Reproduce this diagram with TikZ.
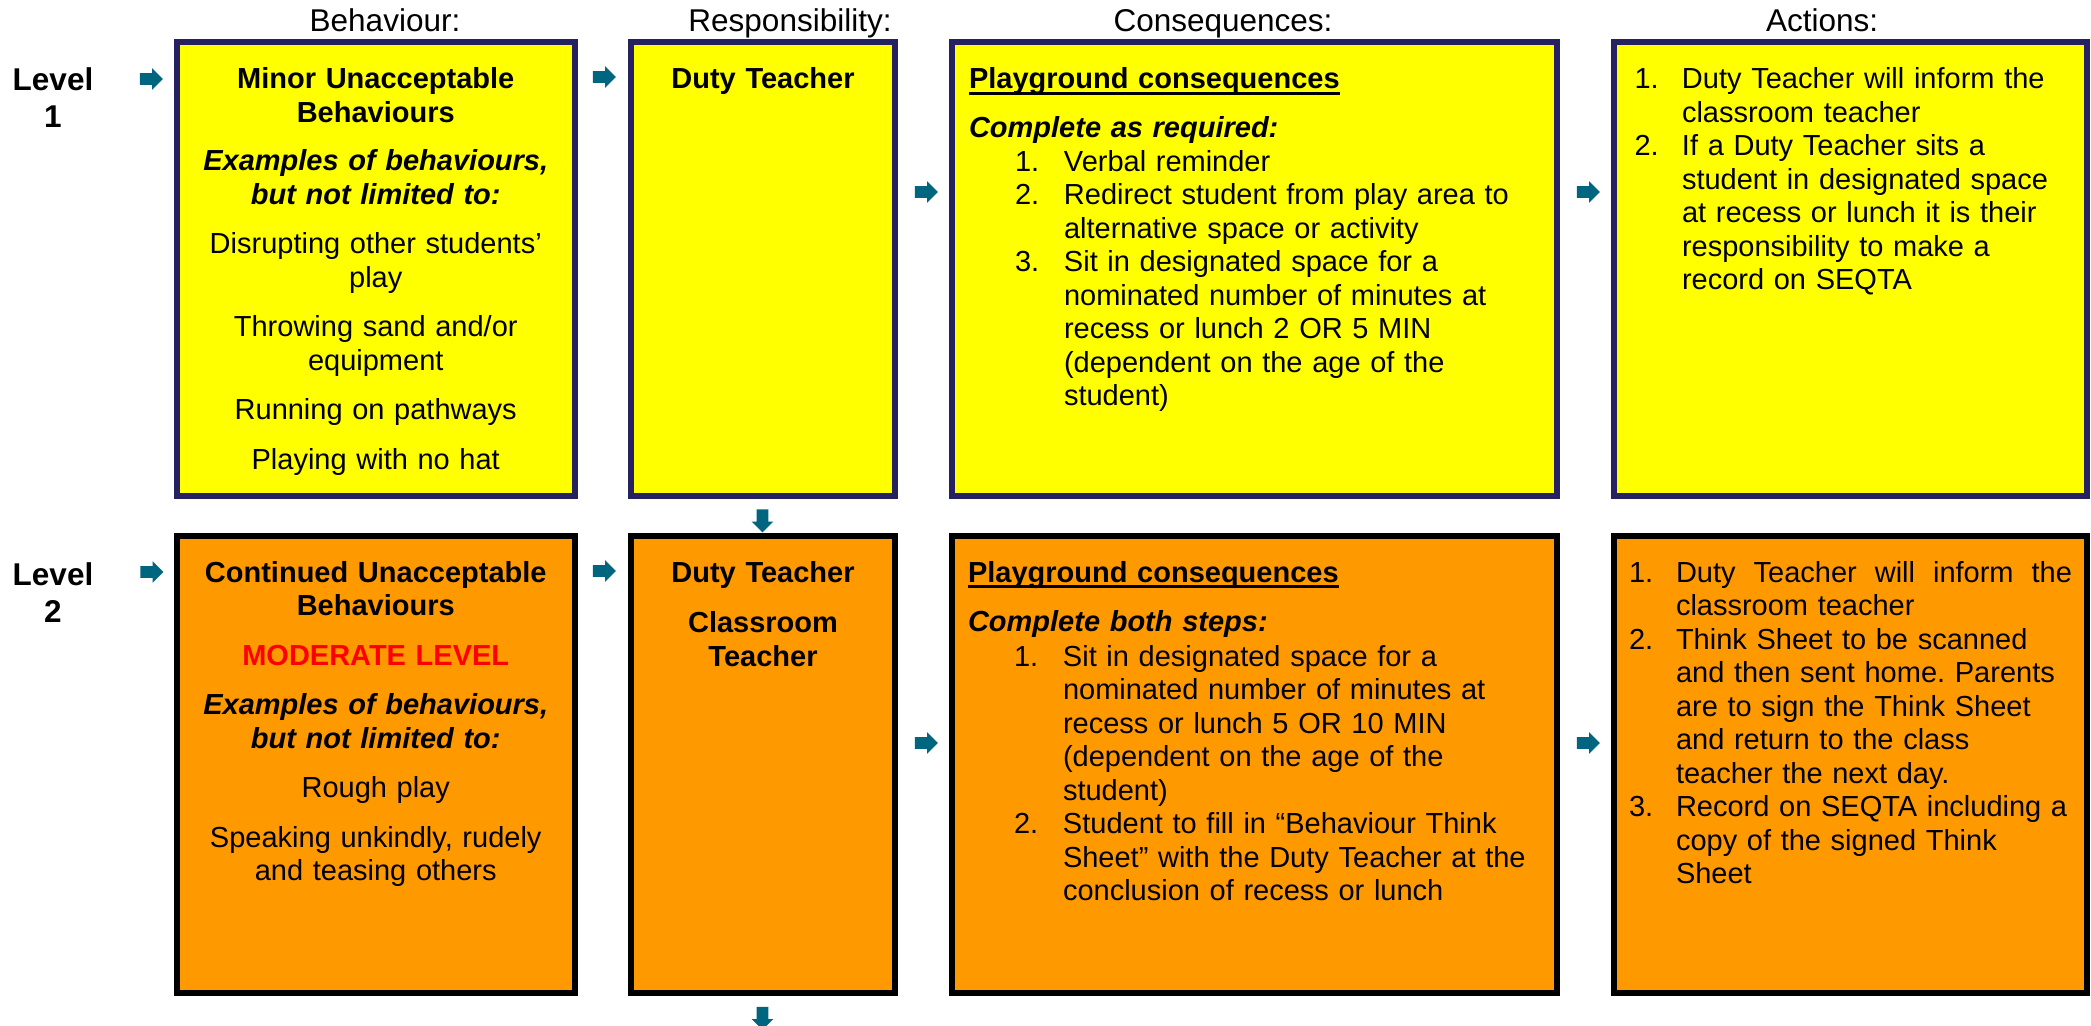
\documentclass[tikz,border=0pt]{standalone}
\usepackage{fontspec}
\setmainfont{Liberation Sans}
\usetikzlibrary{shapes.arrows}
\definecolor{navyb}{RGB}{38,34,98}
\definecolor{arrowc}{RGB}{0,102,128}
\definecolor{yel}{RGB}{255,255,0}
\definecolor{org}{RGB}{255,153,0}
\definecolor{redt}{RGB}{255,0,0}
\frenchspacing
\newcommand{\thickul}[1]{\setbox0\hbox{#1}\rlap{\rule[-3pt]{\wd0}{1.6pt}}\box0}
\newcommand{\itc}[1]{\hspace*{23pt}\makebox[24.5pt][l]{#1}}
\newcommand{\cnc}{\hspace*{47.5pt}}
\newcommand{\ita}[1]{\makebox[23.75pt][l]{#1}}
\newcommand{\cna}{\hspace*{23.75pt}}
\newcommand{\itb}[1]{\makebox[23.5pt][l]{#1}}
\newcommand{\cnb}{\hspace*{23.5pt}}
\begin{document}
\begin{tikzpicture}[x=0.5pt,y=-0.5pt,
  body/.style={font=\fontsize{14.5pt}{16.75pt}\selectfont, inner sep=0pt, outer sep=0pt},
  hdr/.style={font=\fontsize{15.75pt}{18.5pt}\selectfont, inner sep=0pt, outer sep=0pt, anchor=base},
  box1/.style={draw=navyb, fill=yel, line width=3pt, inner sep=0pt, outer sep=0pt},
  box2/.style={draw=black, fill=org, line width=3pt, inner sep=0pt, outer sep=0pt},
  blk/.style={single arrow, fill=arrowc, draw=none, inner sep=0pt, outer sep=0pt,
    minimum height=11.5pt, minimum width=10.5pt, single arrow head extend=2.5pt,
    text height=2.75pt, text depth=2.75pt},
  dn/.style={blk, rotate=-90},
]
\useasboundingbox (0,0) rectangle (2091,1026);

% headers
\node[hdr] (hB) at (385,32) {Behaviour:};
\node[hdr] (hR) at (790,32) {Responsibility:};
\node[hdr] (hC) at (1223,32) {Consequences:};
\node[hdr] (hA) at (1822,32) {Actions:};

% level labels
\node[hdr, text width=60pt, align=center, font=\bfseries\fontsize{15.75pt}{18.5pt}\selectfont] (lv1) at (53,91) {Level\\1};
\node[hdr, text width=60pt, align=center, font=\bfseries\fontsize{15.75pt}{18.5pt}\selectfont] (lv2) at (53,585.5) {Level\\2};

% level 1 boxes
\node[box1, minimum width=198.75pt, minimum height=227pt] (b1) at (375.75,269) {};
\node[box1, minimum width=132pt, minimum height=227pt] (r1) at (763,269) {};
\node[box1, minimum width=302.5pt, minimum height=227pt] (c1) at (1254.5,269) {};
\node[box1, minimum width=236.5pt, minimum height=227pt] (a1) at (1850.5,269) {};

% level 2 boxes
\node[box2, minimum width=198.75pt, minimum height=228.75pt] (b2) at (375.75,764.25) {};
\node[box2, minimum width=132pt, minimum height=228.75pt] (r2) at (763,764.25) {};
\node[box2, minimum width=302.5pt, minimum height=228.75pt] (c2) at (1254.5,764.25) {};
\node[box2, minimum width=236.5pt, minimum height=228.75pt] (a2) at (1850.5,764.25) {};

% level 1 texts
\node[body, anchor=base, text width=195pt, align=center] (tb1) at (375.75,89)
 {\bfseries Minor Unacceptable\\Behaviours\\[7.5pt]\itshape Examples of behaviours,\\but not limited to:\\[8pt]\normalfont Disrupting other students’\\play\\[8pt]Throwing sand and/or\\equipment\\[8pt]Running on pathways\\[8pt]Playing with no hat};
\node[body, anchor=base, text width=128pt, align=center] (tr1) at (763,89)
 {\bfseries Duty Teacher};
\node[body, anchor=base west, text width=290pt, align=left] (tc1) at (969,89)
 {\bfseries\thickul{Playground consequences}\\[7.75pt]\itshape Complete as required:\\\normalfont
  \itc{1.}Verbal reminder\\
  \itc{2.}Redirect student from play area to\\
  \cnc alternative space or activity\\
  \itc{3.}Sit in designated space for a\\
  \cnc nominated number of minutes at\\
  \cnc recess or lunch 2 OR 5 MIN\\
  \cnc (dependent on the age of the\\
  \cnc student)};
\node[body, anchor=base west, text width=225pt, align=left] (ta1) at (1634.5,89)
 {\ita{1.}Duty Teacher will inform the\\
  \cna classroom teacher\\
  \ita{2.}If a Duty Teacher sits a\\
  \cna student in designated space\\
  \cna at recess or lunch it is their\\
  \cna responsibility to make a\\
  \cna record on SEQTA};

% level 2 texts
\node[body, anchor=base, text width=195pt, align=center] (tb2) at (375.75,582)
 {\bfseries Continued Unacceptable\\Behaviours\\[8pt]{\color{redt}MODERATE LEVEL}\\[8pt]\itshape Examples of behaviours,\\but not limited to:\\[8pt]\normalfont Rough play\\[8pt]Speaking unkindly, rudely\\and teasing others};
\node[body, anchor=base, text width=128pt, align=center] (tr2) at (763,582)
 {\bfseries Duty Teacher\\[8.5pt]Classroom\\Teacher};
\node[body, anchor=base west, text width=290pt, align=left] (tc2) at (968,582)
 {\bfseries\thickul{Playground consequences}\\[7.75pt]\itshape Complete both steps:\\[0.75pt]\normalfont
  \itc{1.}Sit in designated space for a\\
  \cnc nominated number of minutes at\\
  \cnc recess or lunch 5 OR 10 MIN\\
  \cnc (dependent on the age of the\\
  \cnc student)\\
  \itc{2.}Student to fill in “Behaviour Think\\
  \cnc Sheet” with the Duty Teacher at the\\
  \cnc conclusion of recess or lunch};
\node[body, anchor=base west, text width=225pt, align=left] (ta2) at (1629,582)
 {\itb{1.}\makebox[198pt][l]{Duty\hfill Teacher\hfill will\hfill inform\hfill the}\\
  \cnb classroom teacher\\
  \itb{2.}Think Sheet to be scanned\\
  \cnb and then sent home. Parents\\
  \cnb are to sign the Think Sheet\\
  \cnb and return to the class\\
  \cnb teacher the next day.\\
  \itb{3.}Record on SEQTA including a\\
  \cnb copy of the signed Think\\
  \cnb Sheet};

% block arrows
\node[blk] (ar11) at (148.5,79) {};
\node[blk] (ar12) at (601.5,77) {};
\node[blk] (ar13) at (923.5,192) {};
\node[blk] (ar14) at (1585.5,192) {};
\node[blk] (ar21) at (149,572) {};
\node[blk] (ar22) at (601.5,571) {};
\node[blk] (ar23) at (923.5,743) {};
\node[blk] (ar24) at (1585.5,743) {};
\node[dn] (dn1) at (762.5,518) {};
\node[dn] (dn2) at (762.5,1015.5) {};
\end{tikzpicture}
\end{document}
